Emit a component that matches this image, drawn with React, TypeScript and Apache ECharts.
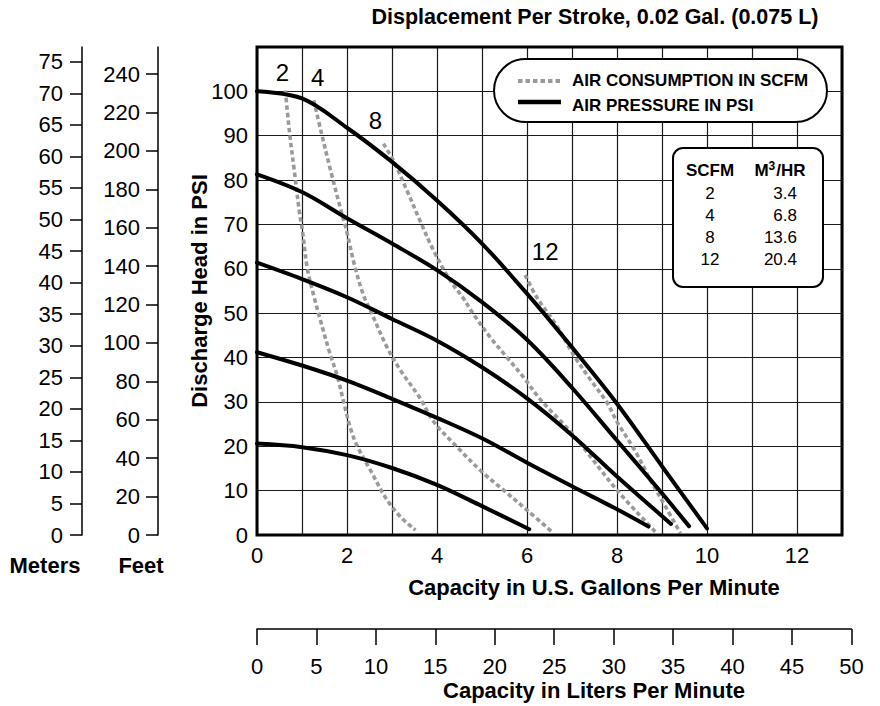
import React, { useEffect, useRef } from "react";
import * as echarts from "echarts";

// ---------- data ----------
// Air pressure curves (GPM, PSI)
const p100: number[][] = [[0, 100], [1, 98.4], [2, 91.8], [3, 84.1], [4, 75.4], [5, 65.7], [6, 54.4], [7, 42.3], [8, 29.6], [9, 15.5], [10, 1.5]];
const p80: number[][] = [[0, 81.3], [1, 77.3], [2, 71.4], [3, 65.7], [4, 59.7], [5, 52.5], [6, 44.0], [7, 33.2], [8, 21.3], [9, 9.4], [9.6, 2.0]];
const p60: number[][] = [[0, 61.4], [1, 57.7], [2, 53.6], [3, 48.7], [4, 43.8], [5, 37.8], [6, 30.8], [7, 22.5], [8, 13.2], [9.2, 2.5]];
const p40: number[][] = [[0, 41.2], [1, 38.2], [2, 34.8], [3, 30.7], [4, 26.4], [5, 21.8], [6, 16.3], [7, 11.0], [8, 5.8], [8.7, 1.9]];
const p20: number[][] = [[0, 20.6], [1, 19.8], [2, 18.0], [3, 15.1], [4, 11.3], [5, 6.5], [6.05, 1.3]];

// Air consumption curves (GPM, PSI)
const c2: number[][] = [[0.63, 100.2], [0.72, 91], [0.83, 82], [0.94, 73], [1.01, 68.5], [1.12, 60], [1.27, 53.6], [1.42, 48], [1.6, 41.6], [1.79, 35.6], [1.93, 29.8], [2.08, 24], [2.22, 20.2], [2.52, 14.6], [2.89, 7.9], [3.19, 4.1], [3.52, 1.1]];
const c4: number[][] = [[1.26, 98], [1.42, 91.1], [1.64, 82], [1.87, 73], [1.99, 68.6], [2.16, 61.1], [2.36, 54.2], [2.52, 50.6], [2.89, 42.3], [3.19, 37.1], [3.6, 31.2], [3.93, 25.5], [4.44, 19.9], [4.96, 14.6], [5.48, 10.1], [6.0, 5.6], [6.59, 0.4]];
const c8: number[][] = [[2.81, 88.2], [3.03, 84.4], [3.33, 77.7], [3.62, 70.9], [3.92, 64.2], [4.29, 57.4], [4.59, 53.3], [4.81, 49.8], [5.18, 44.6], [5.55, 40.1], [5.92, 35.6], [6.3, 30.5], [7, 22.9], [8, 10.1], [8.85, 0.75]];
const c12: number[][] = [[5.96, 58.6], [6.21, 53.7], [6.67, 47], [7.04, 40.5], [7.41, 35], [7.78, 29.8], [8, 25.5], [8.4, 19], [8.74, 12.4], [9.1, 6], [9.41, 0.4]];

const scfmLabels = ["2", "4", "8", "12"];
const m3hrLabels = ["3.4", "6.8", "13.6", "20.4"];

// tick labels
const gpmTicks = [0, 2, 4, 6, 8, 10, 12];
const psiTicks = [0, 10, 20, 30, 40, 50, 60, 70, 80, 90, 100];
const meterTicks = [0, 5, 10, 15, 20, 25, 30, 35, 40, 45, 50, 55, 60, 65, 70, 75];
const feetTicks = [0, 20, 40, 60, 80, 100, 120, 140, 160, 180, 200, 220, 240];
const literTicks = [0, 5, 10, 15, 20, 25, 30, 35, 40, 45, 50];

// axis extents / conversions
const GPM_MAX = 13;
const PSI_MAX = 110;
const FT_PER_PSI = 2.31;
const M_PER_PSI = 0.7031;
const L_PER_GAL = 3.7854;

const FONT = "'Liberation Sans', Arial, Helvetica, sans-serif";

export default function App() {
  const ref = useRef<HTMLDivElement>(null);

  useEffect(() => {
    if (!ref.current) return;
    const chart = echarts.init(ref.current, undefined, { renderer: "svg" });

    const gridL = 257, gridT = 47, gridW = 585, gridH = 488;
    const pxPerGal = gridW / GPM_MAX;
    const literW = (literTicks[literTicks.length - 1] / L_PER_GAL) * pxPerGal;

    const tickFmt = (ticks: number[]) => (v: number) =>
      ticks.some((t) => Math.abs(t - v) < 1e-6) ? String(v) : "";

    const labelStyle = { color: "#000", fontSize: 22, fontFamily: FONT };
    const gridLine = { show: true, lineStyle: { color: "#1a1a1a", width: 1.2 } };

    const solid = (name: string, data: number[][]) => ({
      type: "line",
      name,
      data,
      xAxisIndex: 0,
      yAxisIndex: 0,
      smooth: 0.35,
      smoothMonotone: "none",
      showSymbol: false,
      symbol: "none",
      lineStyle: { color: "#000", width: 4, cap: "round" },
      z: 3,
    });

    const dashed = (name: string, data: number[][], label: string, offset: number[]) => ({
      type: "line",
      name,
      data,
      xAxisIndex: 0,
      yAxisIndex: 0,
      smooth: 0.35,
      smoothMonotone: "none",
      showSymbol: false,
      symbol: "none",
      lineStyle: { color: "#9a9a9a", width: 3.6, type: [4.5, 3] },
      z: 2,
      markPoint: {
        symbol: "circle",
        symbolSize: 0,
        silent: true,
        data: [
          {
            coord: data[0],
            label: {
              show: true,
              formatter: label,
              position: "inside",
              offset,
              color: "#000",
              fontSize: 24,
              fontFamily: FONT,
            },
          },
        ],
      },
    });

    const textEl = (text: string, x: number, y: number, opts: any = {}) => ({
      type: "text",
      x,
      y,
      z: 100,
      rotation: opts.rotation || 0,
      style: {
        text,
        fill: "#000",
        font: `${opts.bold ? "bold " : ""}${opts.size || 22}px ${FONT}`,
        textAlign: opts.align || "center",
        textVerticalAlign: "middle",
      },
    });

    const tableRows: any[] = [];
    scfmLabels.forEach((s, i) => {
      const y = 193 + i * 22;
      tableRows.push(textEl(s, 710, y, { size: 17 }));
      tableRows.push(textEl(m3hrLabels[i], 797, y, { size: 17, align: "right" }));
    });

    chart.setOption({
      animation: false,
      backgroundColor: "#fff",
      grid: [
        { left: gridL, top: gridT, width: gridW, height: gridH, show: true, borderColor: "#000", borderWidth: 3, backgroundColor: "transparent", z: 4 },
        { left: 82, top: gridT, width: 1, height: gridH },
        { left: 158, top: gridT, width: 1, height: gridH },
        { left: gridL, top: 628, width: literW, height: 1 },
      ],
      xAxis: [
        {
          gridIndex: 0, type: "value", min: 0, max: GPM_MAX, interval: 1,
          axisLine: { show: false }, axisTick: { show: false },
          splitLine: gridLine,
          axisLabel: { ...labelStyle, margin: 9, formatter: tickFmt(gpmTicks) },
        },
        { gridIndex: 1, type: "value", show: false, min: 0, max: 1 },
        { gridIndex: 2, type: "value", show: false, min: 0, max: 1 },
        {
          gridIndex: 3, type: "value", min: 0, max: literTicks[literTicks.length - 1], interval: literTicks[1] - literTicks[0],
          axisLine: { show: true, lineStyle: { color: "#000", width: 1.5 } },
          axisTick: { show: true, inside: false, length: 16, lineStyle: { color: "#000", width: 1.5 } },
          splitLine: { show: false },
          axisLabel: { ...labelStyle, margin: 26, formatter: tickFmt(literTicks) },
        },
      ],
      yAxis: [
        {
          gridIndex: 0, type: "value", min: 0, max: PSI_MAX, interval: 10,
          axisLine: { show: false }, axisTick: { show: false },
          splitLine: gridLine,
          axisLabel: { ...labelStyle, margin: 9, formatter: tickFmt(psiTicks) },
        },
        {
          gridIndex: 1, type: "value", min: 0, max: PSI_MAX * M_PER_PSI, interval: meterTicks[1] - meterTicks[0],
          axisLine: { show: true, lineStyle: { color: "#000", width: 1.5 } },
          axisTick: { show: true, inside: false, length: 12, lineStyle: { color: "#000", width: 1.5 } },
          splitLine: { show: false },
          axisLabel: { ...labelStyle, margin: 19, showMaxLabel: false, formatter: tickFmt(meterTicks) },
        },
        {
          gridIndex: 2, type: "value", min: 0, max: PSI_MAX * FT_PER_PSI, interval: feetTicks[1] - feetTicks[0],
          axisLine: { show: true, lineStyle: { color: "#000", width: 1.5 } },
          axisTick: { show: true, inside: false, length: 12, lineStyle: { color: "#000", width: 1.5 } },
          splitLine: { show: false },
          axisLabel: { ...labelStyle, margin: 18, showMaxLabel: false, formatter: tickFmt(feetTicks) },
        },
        { gridIndex: 3, type: "value", show: false, min: 0, max: 1 },
      ],
      series: [
        dashed("2 SCFM", c2, scfmLabels[0], [-3, -18]),
        dashed("4 SCFM", c4, scfmLabels[1], [4, -23]),
        dashed("8 SCFM", c8, scfmLabels[2], [-8, -23]),
        dashed("12 SCFM", c12, scfmLabels[3], [20, -24]),
        solid("100 PSI", p100),
        solid("80 PSI", p80),
        solid("60 PSI", p60),
        solid("40 PSI", p40),
        solid("20 PSI", p20),
      ],
      graphic: [
        textEl("Displacement Per Stroke, 0.02 Gal. (0.075 L)", 595, 17, { bold: true, size: 21.5 }),
        textEl("Discharge Head in PSI", 199, 291, { bold: true, size: 22, rotation: Math.PI / 2 }),
        textEl("Capacity in U.S. Gallons Per Minute", 594, 587, { bold: true, size: 22 }),
        textEl("Capacity in Liters Per Minute", 594, 690, { bold: true, size: 22 }),
        textEl("Meters", 45, 565, { bold: true, size: 22 }),
        textEl("Feet", 141, 565, { bold: true, size: 22 }),
        {
          type: "rect", z: 90,
          shape: { x: 494, y: 59, width: 333, height: 63, r: 31.5 },
          style: { fill: "#fff", stroke: "#000", lineWidth: 2 },
        },
        {
          type: "line", z: 100,
          shape: { x1: 518, y1: 81, x2: 561, y2: 81 },
          style: { stroke: "#9a9a9a", lineWidth: 4, lineDash: [4.5, 3] },
        },
        {
          type: "line", z: 100,
          shape: { x1: 518, y1: 102, x2: 561, y2: 102 },
          style: { stroke: "#000", lineWidth: 4.5 },
        },
        textEl("AIR CONSUMPTION IN SCFM", 572, 80, { bold: true, size: 17, align: "left" }),
        textEl("AIR PRESSURE IN PSI", 572, 105, { bold: true, size: 17, align: "left" }),
        {
          type: "rect", z: 90,
          shape: { x: 673, y: 148, width: 150, height: 139, r: 10 },
          style: { fill: "#fff", stroke: "#000", lineWidth: 2 },
        },
        textEl("SCFM", 710, 170, { bold: true, size: 17 }),
        {
          type: "text", x: 780, y: 170, z: 100,
          style: {
            text: "{b|M}{s|3}{b|/HR}",
            textAlign: "center",
            textVerticalAlign: "middle",
            fill: "#000",
            rich: {
              b: { fontSize: 17, fontWeight: "bold", fontFamily: FONT, lineHeight: 20, fill: "#000" },
              s: { fontSize: 12, fontWeight: "bold", fontFamily: FONT, lineHeight: 20, verticalAlign: "top", padding: [0, 1, 8, 0], fill: "#000" },
            },
          },
        },
        ...tableRows,
      ],
    });

    return () => chart.dispose();
  }, []);

  return <div ref={ref} style={{ position: "absolute", left: 0, top: 0, width: 880, height: 706 }} />;
}
